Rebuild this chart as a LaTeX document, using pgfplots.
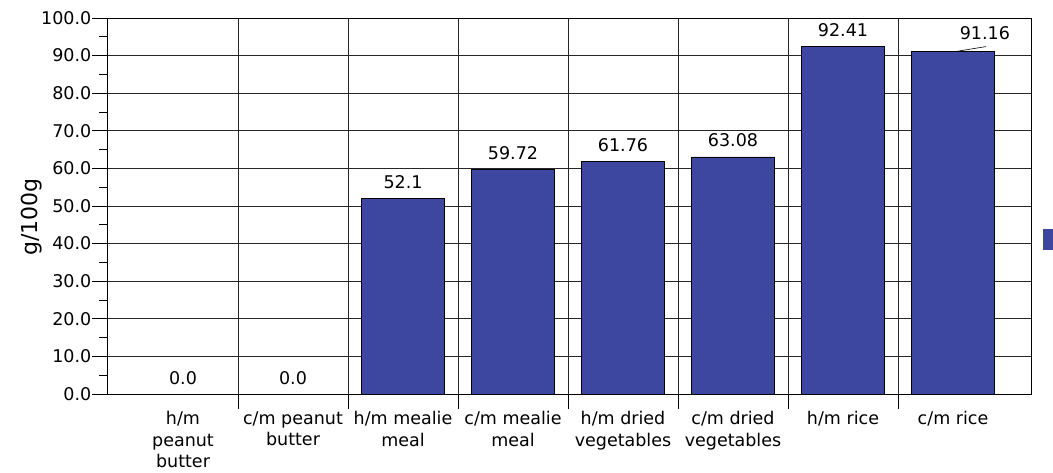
\documentclass[border=0pt]{standalone}
\usepackage{pgfplots}
\pgfplotsset{compat=1.18}
\usepackage{fontspec}
\setmainfont{DejaVu Sans}
\definecolor{barblue}{RGB}{61,71,160}
\newcommand{\lblfont}{\fontsize{17.5}{21.5}\selectfont}

\begin{document}
\begin{tikzpicture}
\begin{axis}[
  name=ax,
  scale only axis, width=924pt, height=376pt,
  xmin=-0.691, xmax=7.709, ymin=0, ymax=100,
  axis line style={black, line width=0.9pt},
  tick style={black, line width=0.9pt},
  tick align=outside,
  major tick length=15pt, minor tick length=8pt,
  ytick pos=left, xtick pos=bottom,
  ytick={0,10,...,100}, minor y tick num=1,
  tick label style={font=\lblfont},
  yticklabel style={/pgf/number format/.cd, fixed, fixed zerofill, precision=1,
    assume math mode=true, /tikz/.cd, inner sep=0.5pt},
  ymajorgrids, xmajorgrids,
  grid style={black!85, line width=0.9pt},
  xtick={0.5,1.5,...,6.5}, xticklabels={},
  xticklabel style={align=center},
  extra x ticks={0,1,2,3,4,5,6,7},
  extra x tick labels={h/m\\peanut\\butter, c/m peanut\\butter, h/m mealie\\meal,
    c/m mealie\\meal, h/m dried\\vegetables, c/m dried\\vegetables, h/m rice, c/m rice},
  extra x tick style={grid=none, major tick length=0pt, tick style={draw=none},
    xticklabel style={yshift=-14pt}},
  ylabel={g/100g},
  ylabel style={at={(axis description cs:-0.082,0.47)}, anchor=center,
    font=\fontsize{22}{26}\selectfont},
  legend style={draw=none, fill=none, at={(rel axis cs:1,0.412)}, anchor=west,
    xshift=12pt, inner sep=0pt, font=\lblfont},
  legend image code/.code={\fill[barblue] (0pt,-10pt) rectangle (20pt,10pt);},
]
\addplot[ybar, bar width=83pt, fill=barblue, draw=black, line width=0.6pt,
  point meta=explicit symbolic, nodes near coords,
  every node near coord/.append style={font=\lblfont, yshift=6pt}]
  coordinates {(0,0)[0.0] (1,0)[0.0] (2,52.1)[52.1] (3,59.72)[59.72]
    (4,61.76)[61.76] (5,63.08)[63.08] (6,92.41)[92.41] (7,91.16)[]};
\addlegendentry{}
% the last bar's label sits off to the right, with a leader line
\node[font=\lblfont] at (axis cs:7.29,96.0) {91.16};
\draw[black, line width=0.6pt] (axis cs:7.04,91.16) -- (axis cs:7.30,92.4);
\end{axis}
\pgfresetboundingbox
\path[use as bounding box] ([shift={(-107pt,-78pt)}]ax.south west)
  rectangle ([shift={(22pt,18pt)}]ax.north east);
\end{tikzpicture}
\end{document}
